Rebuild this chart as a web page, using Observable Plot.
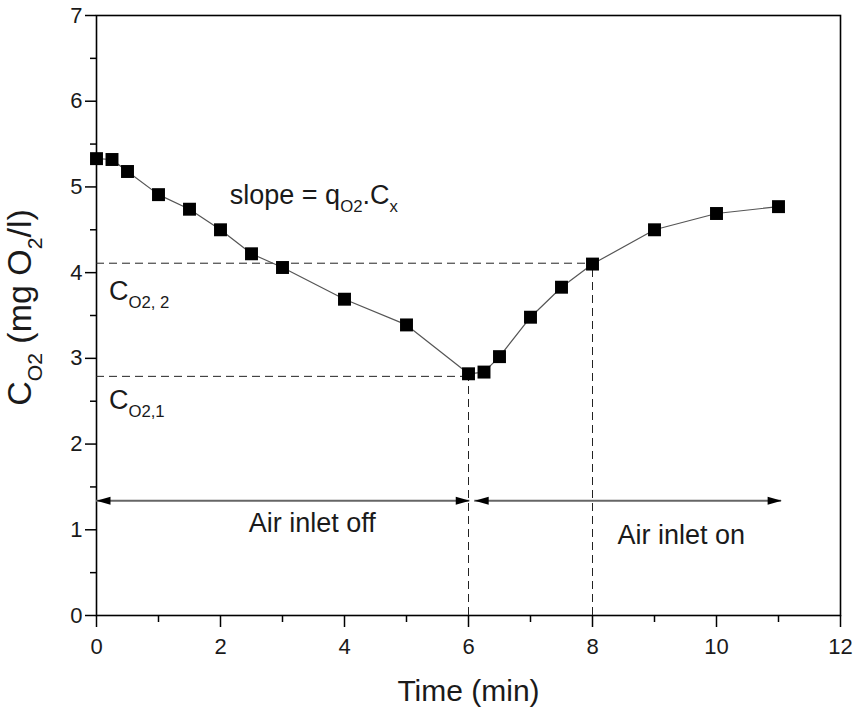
<!DOCTYPE html>
<html><head><meta charset="utf-8">
<script src="https://cdn.jsdelivr.net/npm/d3@7"></script>
<script src="https://cdn.jsdelivr.net/npm/@observablehq/plot@0.6"></script>
<style>
body{margin:0;background:#fff;}
#chart{width:858px;height:711px;}
</style></head><body><div id="chart"></div>
<script>
// ---- data ----
const time = [0, 0.25, 0.5, 1, 1.5, 2, 2.5, 3, 4, 5, 6, 6.25, 6.5, 7, 7.5, 8, 9, 10, 11];
const conc = [5.33, 5.32, 5.18, 4.91, 4.74, 4.50, 4.22, 4.06, 3.69, 3.39, 2.82, 2.84, 3.02, 3.48, 3.83, 4.10, 4.50, 4.69, 4.77];

const xMajorTicks = [0, 2, 4, 6, 8, 10, 12];
const xMinorTicks = [1, 3, 5, 7, 9, 11];
const yMajorTicks = [0, 1, 2, 3, 4, 5, 6, 7];
const yMinorTicks = [0.5, 1.5, 2.5, 3.5, 4.5, 5.5, 6.5];

const refTime = [6, 8];          // C_O2,1 and C_O2,2 reading times
const refConc = [2.79, 4.11];    // C_O2,1 and C_O2,2 levels

const arrowStart = [0, 6.1];
const arrowEnd = [6.02, 11.05];
const arrowLevel = [1.34, 1.34];

const noteText = ["slope = q_{O2}.C_{x}", "C_{O2, 2}", "C_{O2,1}", "Air inlet off", "Air inlet on"];
const noteX = [2.15, 0.2, 0.2, 3.48, 9.43];
const noteY = [4.9, 3.78, 2.51, 1.07, 0.94];
const noteAnchor = ["start", "start", "start", "middle", "middle"];

const xLabel = "Time (min)";
const yLabel = "C_{O2} (mg O_{2}/l)";

// ---- tables built from the arrays ----
const points = time.map((t, i) => ({t, c: conc[i]}));
const refs = refTime.map((t, i) => ({t, c: refConc[i]}));
const arrows = arrowStart.map((s, i) => ({x1: s, x2: arrowEnd[i], y: arrowLevel[i]}));
const notes = noteText.map((text, i) => ({text, x: noteX[i], y: noteY[i], anchor: noteAnchor[i]}));

const headRight = {draw(ctx) { const L = 14, W = 8; ctx.moveTo(0, 0); ctx.lineTo(-L, -W / 2); ctx.lineTo(-L, W / 2); ctx.closePath(); }};
const headLeft = {draw(ctx) { const L = 14, W = 8; ctx.moveTo(0, 0); ctx.lineTo(L, -W / 2); ctx.lineTo(L, W / 2); ctx.closePath(); }};

const FONT = "'Liberation Sans', Arial, sans-serif";
const ink = "#1a1a1a";
const fmt = d => String(d);

const plot = Plot.plot({
  width: 858,
  height: 711,
  marginLeft: 96,
  marginRight: 18,
  marginTop: 15,
  marginBottom: 96,
  style: {fontFamily: FONT, fontSize: "22px", background: "white", color: ink},
  x: {domain: [0, 12]},
  y: {domain: [0, 7]},
  marks: [
    Plot.frame({stroke: "black", strokeWidth: 1.6}),
    // dashed guides
    Plot.ruleY(refs, {y: "c", x1: 0, x2: "t", stroke: "#222", strokeWidth: 1, strokeDasharray: "8,5"}),
    Plot.ruleX(refs, {x: "t", y1: 0, y2: "c", stroke: "#222", strokeWidth: 1, strokeDasharray: "8,5"}),
    // data
    Plot.line(points, {x: "t", y: "c", stroke: "#555", strokeWidth: 1.2}),
    Plot.dot(points, {x: "t", y: "c", symbol: "square", r: 7.3, fill: "black", stroke: "none"}),
    // double arrows
    Plot.ruleY(arrows, {y: "y", x1: "x1", x2: "x2", stroke: "#666", strokeWidth: 2}),
    Plot.dot(arrows, {x: "x1", y: "y", symbol: headLeft, r: 5, fill: "black", stroke: "none"}),
    Plot.dot(arrows, {x: "x2", y: "y", symbol: headRight, r: 5, fill: "black", stroke: "none"}),
    // annotations
    Plot.text(notes.filter(d => d.anchor === "start"), {x: "x", y: "y", text: "text", textAnchor: "start", lineAnchor: "middle", fontSize: 27, fill: ink}),
    Plot.text(notes.filter(d => d.anchor === "middle"), {x: "x", y: "y", text: "text", textAnchor: "middle", lineAnchor: "middle", fontSize: 27, fill: ink}),
    // axes
    Plot.axisX(xMajorTicks, {tickSize: 12, tickPadding: 11, tickFormat: fmt, fontSize: 22, label: null, strokeWidth: 1.5, stroke: "black", fill: ink}),
    Plot.axisX(xMinorTicks, {tickSize: 7, tickFormat: () => "", label: null, strokeWidth: 1.5, stroke: "black"}),
    Plot.axisY(yMajorTicks, {tickSize: 11, tickPadding: 3, tickFormat: fmt, fontSize: 22, label: null, strokeWidth: 1.5, stroke: "black", fill: ink}),
    Plot.axisY(yMinorTicks, {tickSize: 6, tickFormat: () => "", label: null, strokeWidth: 1.5, stroke: "black"}),
    // axis titles
    Plot.text([xLabel], {text: d => d, frameAnchor: "bottom", textAnchor: "middle", lineAnchor: "middle", dy: 76, fontSize: 30, fill: ink}),
    Plot.text([yLabel], {text: d => d, frameAnchor: "left", textAnchor: "middle", lineAnchor: "middle", dx: -76, dy: -8, rotate: -90, fontSize: 34, fill: ink})
  ]
});

document.getElementById("chart").append(plot);

// tick labels: enforce the larger size
d3.select(plot).selectAll('g[aria-label$="tick label"]').attr("font-size", 22).style("font-size", "22px")
  .selectAll("text").style("font-size", "22px");

// subscripts: turn "_{...}" into smaller lowered tspans
d3.select(plot).selectAll("text").each(function () {
  const t = this.textContent;
  if (!t.includes("_{")) return;
  const fs = parseFloat(getComputedStyle(this).fontSize) || 20;
  const parts = t.split(/(_\{[^}]*\})/).filter(s => s.length);
  this.textContent = "";
  const sel = d3.select(this);
  let shifted = false;
  for (const p of parts) {
    if (p.startsWith("_{")) {
      sel.append("tspan").attr("font-size", fs * 0.62).attr("dy", shifted ? null : fs * 0.3).text(p.slice(2, -1));
      shifted = true;
    } else {
      const ts = sel.append("tspan").text(p);
      if (shifted) ts.attr("dy", -fs * 0.3);
      shifted = false;
    }
  }
});
</script>
</body></html>
